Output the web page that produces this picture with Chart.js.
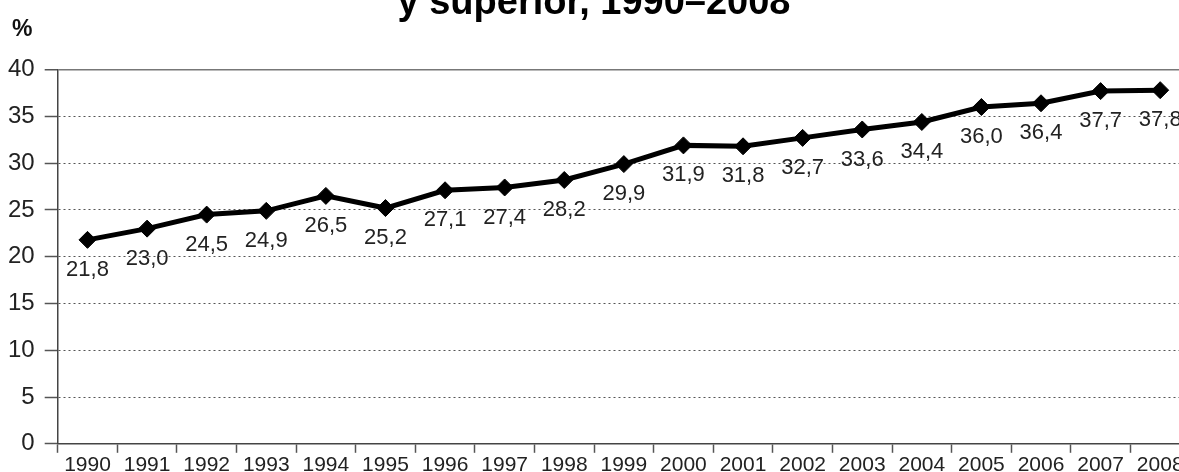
<!DOCTYPE html>
<html>
<head>
<meta charset="utf-8">
<script src="https://cdn.jsdelivr.net/npm/chart.js"></script>
<style>
  html, body { margin: 0; padding: 0; background: #fff; overflow: hidden; }
  #wrap { position: relative; width: 1179px; height: 472px; overflow: hidden; }
  #box { position: absolute; left: -2px; top: -19px; width: 1202px; height: 500px; }
  #unit { position: absolute; left: 12px; top: 15px; font: bold 23px "Liberation Sans", Arial, sans-serif; color: #111; }
</style>
</head>
<body>
<div id="wrap">
  <div id="box"><canvas id="chart"></canvas></div>
  <div id="unit">%</div>
</div>
<script>
const years = ["1990", "1991", "1992", "1993", "1994", "1995", "1996", "1997", "1998", "1999",
  "2000", "2001", "2002", "2003", "2004", "2005", "2006", "2007", "2008"];
const shares = [21.8, 23.0, 24.5, 24.9, 26.5, 25.2, 27.1, 27.4, 28.2, 29.9,
  31.9, 31.8, 32.7, 33.6, 34.4, 36.0, 36.4, 37.7, 37.8];
const yMin = 0;
const yMax = 40;
const yStep = 5;
const titleText = "y superior, 1990–2008";

const font = "'Liberation Sans', Arial, sans-serif";

// value labels under each point, comma as decimal mark
const valueLabels = {
  id: "valueLabels",
  afterDatasetsDraw(chart) {
    const ctx = chart.ctx;
    const meta = chart.getDatasetMeta(0);
    ctx.save();
    ctx.font = "22px " + font;
    ctx.fillStyle = "#222";
    ctx.textAlign = "center";
    ctx.textBaseline = "middle";
    meta.data.forEach((pt, i) => {
      const txt = shares[i].toFixed(1).replace(".", ",");
      ctx.fillText(txt, pt.x, pt.y + 30);
    });
    ctx.restore();
  }
};

const isEdge = c => c.tick && (c.tick.value === yMax || c.tick.value === yMin);

new Chart(document.getElementById("chart"), {
  type: "line",
  data: {
    labels: years,
    datasets: [{
      data: shares,
      borderColor: "#000",
      borderWidth: 5,
      tension: 0,
      pointStyle: "rectRot",
      pointRadius: 8.5,
      pointBackgroundColor: "#000",
      pointBorderColor: "#000",
      pointBorderWidth: 1
    }]
  },
  options: {
    responsive: true,
    maintainAspectRatio: false,
    animation: false,
    layout: { padding: { left: 0, right: 10, top: 0, bottom: 3 } },
    plugins: {
      legend: { display: false },
      tooltip: { enabled: false },
      title: {
        display: true,
        text: titleText,
        color: "#000",
        font: { family: font, size: 38, weight: "bold" },
        padding: { top: 0, bottom: 43 }
      }
    },
    scales: {
      x: {
        offset: true,
        grid: {
          offset: true,
          drawOnChartArea: false,
          tickLength: 9,
          tickColor: "#555",
          tickWidth: 1.5
        },
        border: { color: "#444", width: 1.5 },
        ticks: {
          color: "#222",
          font: { family: font, size: 21 },
          padding: 0,
          maxRotation: 0,
          autoSkip: false
        }
      },
      y: {
        min: yMin,
        max: yMax,
        grid: {
          color: c => (c.tick && c.tick.value === yMax) ? "#777" : "#555",
          lineWidth: c => (c.tick && c.tick.value === yMax) ? 1.5 : 1,
          tickLength: 13,
          tickColor: "#555",
          tickWidth: 1.5,
          tickBorderDash: []
        },
        border: {
          color: "#444",
          width: 1.5,
          dash: c => isEdge(c) || !c.tick ? [] : [2, 3]
        },
        ticks: {
          stepSize: yStep,
          color: "#222",
          font: { family: font, size: 24 },
          padding: 10
        }
      }
    }
  },
  plugins: [valueLabels]
});
</script>
</body>
</html>
